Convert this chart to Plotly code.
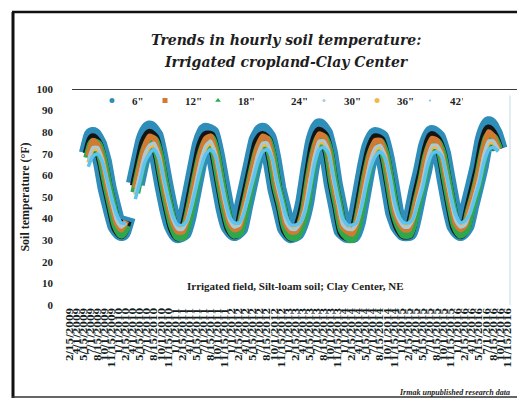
import pandas as pd
import plotly.graph_objects as go

# Monthly soil temperature (°F), Jun 2009 - Sep 2016, one list per sensor depth.
# None marks the spring 2010 gap in the record.
DEPTHS = ['6"', '12"', '18"', '24"', '30"', '36"', '42"']

T6 = [70, 78, 74, 66, 54, 45, 37,
      34, 41, None, 56, 66, 76, 81, 78, 68, 56, 45, 37,
      33, 34, 41, 52, 63, 74, 80, 79, 69, 57, 45, 37,
      34, 36, 46, 56, 66, 76, 80, 77, 67, 54, 45, 36,
      33, 34, 39, 48, 62, 75, 82, 79, 70, 56, 45, 35,
      33, 33, 39, 51, 63, 73, 78, 77, 68, 56, 43, 37,
      34, 34, 42, 53, 62, 73, 79, 77, 70, 58, 46, 37,
      34, 37, 46, 55, 64, 76, 83, 79, 72]
T12 = [69, 76, 74, 67, 56, 46, 38,
       35, 39, None, 54, 64, 73, 78, 77, 69, 57, 46, 38,
       34, 34, 40, 50, 61, 71, 77, 78, 70, 58, 46, 38,
       35, 36, 44, 54, 64, 73, 78, 77, 68, 55, 46, 37,
       34, 34, 38, 46, 60, 72, 79, 78, 71, 57, 46, 36,
       34, 33, 38, 49, 61, 71, 76, 76, 69, 57, 44, 38,
       35, 35, 41, 51, 60, 71, 77, 76, 70, 59, 47, 38,
       35, 37, 45, 53, 62, 73, 80, 78, 72]
T18 = [68, 75, 74, 67, 56, 46, 37,
       33, 37, None, 52, 62, 71, 76, 76, 69, 57, 46, 37,
       32, 32, 38, 48, 59, 69, 75, 77, 70, 58, 46, 37,
       33, 34, 42, 52, 62, 71, 76, 76, 68, 55, 46, 36,
       32, 32, 36, 44, 58, 70, 77, 77, 71, 57, 46, 35,
       32, 31, 36, 47, 59, 69, 74, 75, 69, 57, 44, 37,
       33, 33, 39, 49, 58, 69, 75, 75, 70, 59, 47, 37,
       33, 35, 43, 51, 60, 71, 78, 77, 72]
T24 = [70, 77, 74, 66, 55, 45, 36,
       33, 39, None, 55, 65, 75, 79, 77, 68, 56, 45, 36,
       32, 33, 40, 51, 62, 73, 78, 78, 69, 57, 45, 36,
       33, 35, 45, 55, 65, 75, 78, 76, 67, 54, 45, 35,
       32, 33, 38, 47, 61, 74, 80, 78, 70, 56, 45, 34,
       32, 32, 38, 50, 62, 72, 77, 76, 68, 56, 43, 36,
       33, 33, 41, 52, 61, 72, 78, 76, 70, 58, 46, 36,
       33, 36, 45, 54, 63, 75, 81, 78, 72]
T30 = [67, 73, 73, 67, 57, 47, 39,
       36, 38, None, 52, 61, 70, 74, 75, 69, 58, 47, 39,
       35, 35, 39, 48, 58, 68, 74, 76, 70, 59, 47, 39,
       36, 37, 43, 52, 61, 70, 75, 75, 68, 56, 47, 38,
       35, 35, 38, 45, 57, 69, 76, 76, 71, 58, 47, 37,
       35, 35, 38, 47, 58, 68, 73, 74, 69, 58, 45, 39,
       36, 36, 40, 49, 57, 68, 74, 74, 70, 60, 48, 39,
       36, 37, 43, 51, 59, 70, 76, 76, 72]
T36 = [66, 72, 72, 67, 57, 48, 40,
       37, 38, None, 51, 60, 69, 73, 74, 69, 58, 48, 40,
       36, 36, 39, 47, 57, 67, 73, 75, 70, 59, 48, 40,
       37, 37, 43, 51, 60, 69, 74, 74, 68, 57, 48, 39,
       36, 36, 38, 44, 56, 68, 75, 75, 71, 59, 48, 38,
       36, 35, 38, 46, 57, 67, 72, 73, 69, 59, 46, 40,
       37, 37, 40, 48, 56, 67, 73, 73, 70, 60, 49, 40,
       37, 38, 43, 50, 58, 69, 75, 75, 72]
T42 = [64, 69, 70, 66, 58, 49, 42,
       38, 38, None, 49, 57, 66, 70, 72, 68, 59, 49, 41,
       37, 37, 39, 46, 55, 64, 70, 72, 69, 60, 49, 41,
       38, 38, 42, 50, 58, 66, 71, 72, 68, 58, 49, 41,
       37, 37, 38, 43, 53, 65, 72, 73, 70, 60, 49, 40,
       37, 37, 38, 45, 55, 64, 69, 71, 68, 60, 48, 41,
       38, 38, 40, 47, 54, 64, 70, 71, 69, 61, 50, 42,
       38, 39, 42, 49, 56, 66, 72, 73, 71]

SERIES = [T6, T12, T18, T24, T30, T36, T42]

# Month stamps for the readings (mid-month)
MONTHS = pd.date_range("2009-06-01", periods=len(T6), freq="MS") + pd.Timedelta(days=14)

# Date labels along the time axis
TICK_LABELS = [
    "2/15/2009", "4/1/2009", "5/15/2009", "7/1/2009", "8/15/2009", "10/1/2009", "11/15/2009",
    "1/1/2010", "2/15/2010", "4/1/2010", "5/15/2010", "7/1/2010", "8/15/2010", "10/1/2010", "11/15/2010",
    "1/1/2011", "2/15/2011", "4/1/2011", "5/15/2011", "7/1/2011", "8/15/2011", "10/1/2011", "11/15/2011",
    "1/1/2012", "2/15/2012", "4/1/2012", "5/15/2012", "7/1/2012", "8/15/2012", "10/1/2012", "11/15/2012",
    "1/1/2013", "2/15/2013", "4/1/2013", "5/15/2013", "7/1/2013", "8/15/2013", "10/1/2013", "11/15/2013",
    "1/1/2014", "2/15/2014", "4/1/2014", "5/15/2014", "7/1/2014", "8/15/2014", "10/1/2014", "11/15/2014",
    "1/1/2015", "2/15/2015", "4/1/2015", "5/15/2015", "7/1/2015", "8/15/2015", "10/1/2015", "11/15/2015",
    "1/1/2016", "2/15/2016", "4/1/2016", "5/15/2016", "7/1/2016", "8/15/2016", "10/1/2016", "11/15/2016",
]
TICK_VALS = pd.to_datetime(TICK_LABELS, format="%m/%d/%Y")

Y_TICKS = list(range(0, 101, 10))

# Per-depth styling: line colour, line width, curve smoothing, legend marker
COLORS = ["#2f8dba", "#d27a32", "#2fa84c", "#141414", "#a9c9d6", "#f0b84a", "#5ec4ef"]
WIDTHS = [19, 6, 10, 11, 3, 4, 3.5]
SMOOTH = [0.25, 0.6, 0.6, 0.6, 0.6, 0.6, 0.6]
SYMBOLS = ["circle", "square", "triangle-up", "x-thin", "circle", "circle", "circle"]
SYM_SIZE = [5, 5, 5, 1, 3, 5, 1]
DRAW_ORDER = [0, 3, 2, 1, 5, 4, 6]

SERIF = "DejaVu Serif"
BODY = "Liberation Serif"

fig = go.Figure()

for i in DRAW_ORDER:
    fig.add_trace(go.Scatter(
        x=MONTHS, y=SERIES[i], mode="lines", name=DEPTHS[i],
        line=dict(color=COLORS[i], width=WIDTHS[i], shape="spline", smoothing=SMOOTH[i]),
        connectgaps=False, showlegend=False, hoverinfo="skip",
    ))

for i, d in enumerate(DEPTHS):
    fig.add_trace(go.Scatter(
        x=[None], y=[None], mode="markers", name=d,
        marker=dict(color=COLORS[i], symbol=SYMBOLS[i], size=SYM_SIZE[i]),
        showlegend=True,
    ))

L, R, T, B = 66, 5, 89, 94
W, H = 517, 399
pw, ph = W - L - R, H - T - B


def px_x(p):
    return (p - L) / pw


def px_y(p):
    return (H - B - p) / ph


shapes = [
    # heavy rule at 100 °F
    dict(type="line", xref="paper", yref="y", x0=px_x(72), x1=1.02, y0=100, y1=100,
         line=dict(color="#3a3a3a", width=2)),
    # faint right edge of the plot area
    dict(type="line", xref="paper", yref="paper", x0=px_x(510), x1=px_x(510), y0=0, y1=0.97,
         line=dict(color="#c4dbe2", width=1)),
    # outer frame
    dict(type="line", xref="paper", yref="paper", x0=px_x(13), x1=px_x(13), y0=px_y(12), y1=px_y(398),
         line=dict(color="#111111", width=3)),
    dict(type="line", xref="paper", yref="paper", x0=px_x(12), x1=px_x(520), y0=px_y(12), y1=px_y(12),
         line=dict(color="#111111", width=2.5)),
    dict(type="line", xref="paper", yref="paper", x0=px_x(12), x1=px_x(520), y0=px_y(397), y1=px_y(397),
         line=dict(color="#333333", width=1.5)),
]

annotations = [
    dict(text="<b><i>Trends in hourly soil temperature:</i></b>", xref="paper", yref="paper",
         x=px_x(286), y=px_y(40), xanchor="center", yanchor="middle", showarrow=False,
         font=dict(family=SERIF, size=14, color="#1e1e1e")),
    dict(text="<b><i>Irrigated cropland-Clay Center</i></b>", xref="paper", yref="paper",
         x=px_x(286), y=px_y(62), xanchor="center", yanchor="middle", showarrow=False,
         font=dict(family=SERIF, size=14, color="#1e1e1e")),
    dict(text="<b>Irrigated field, Silt-loam soil; Clay Center, NE</b>", xref="paper", yref="paper",
         x=px_x(295), y=px_y(286), xanchor="center", yanchor="middle", showarrow=False,
         font=dict(family=BODY, size=11, color="#1e1e1e")),
    dict(text="<b><i>Irmak unpublished research data</i></b>", xref="paper", yref="paper",
         x=px_x(512), y=px_y(392), xanchor="right", yanchor="middle", showarrow=False,
         font=dict(family=BODY, size=8, color="#1e1e1e")),
]

fig.update_layout(
    width=W, height=H,
    margin=dict(l=L, r=R, t=T, b=B),
    paper_bgcolor="white", plot_bgcolor="white",
    showlegend=True,
    legend=dict(orientation="h", x=px_x(92), y=px_y(86), xanchor="left", yanchor="top",
                bgcolor="rgba(0,0,0,0)", itemwidth=30, entrywidth=8, entrywidthmode="pixels",
                font=dict(family=BODY, size=11, color="#1e1e1e", weight="bold"),
                tracegroupgap=0),
    shapes=shapes,
    annotations=annotations,
    xaxis=dict(
        type="date", range=["2009-01-22", "2016-12-13"],
        tickmode="array", tickvals=TICK_VALS, ticktext=TICK_LABELS,
        tickangle=-90, ticks="", showgrid=False, zeroline=False, showline=False,
        tickfont=dict(family=SERIF, size=9.5, color="#0f1c1c", weight="bold"),
    ),
    yaxis=dict(
        range=[0, 100], tickmode="array", tickvals=Y_TICKS, ticks="",
        ticklabelstandoff=12,
        showgrid=False, zeroline=False, showline=False,
        tickfont=dict(family=BODY, size=11, color="#1e1e1e", weight="bold"),
        title=dict(text="Soil temperature (°F)", standoff=4,
                   font=dict(family=BODY, size=12, color="#1e1e1e", weight="bold")),
    ),
)

fig.write_html("out.html")
